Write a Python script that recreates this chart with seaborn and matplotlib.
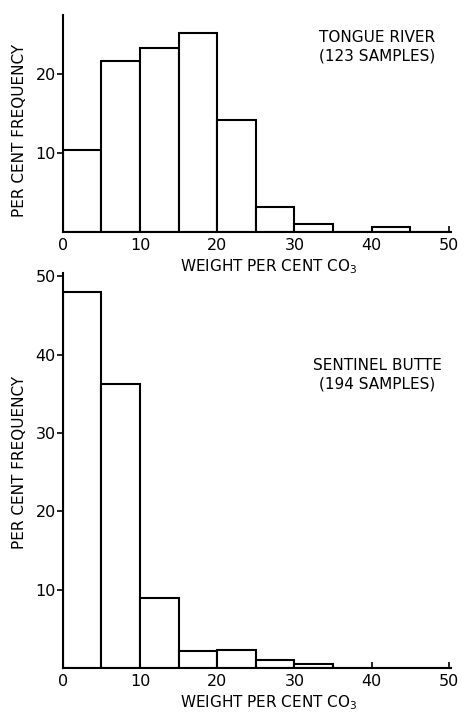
import matplotlib
matplotlib.use("Agg")
import matplotlib.pyplot as plt
import seaborn as sns
import numpy as np

# ---- data ----
bin_edges = [0, 5, 10, 15, 20, 25, 30, 35, 40, 45, 50]
tongue_river = [10.4, 21.6, 23.3, 25.2, 14.1, 3.2, 1.05, 0.0, 0.6, 0.0]
sentinel_butte = [48.0, 36.2, 8.9, 2.2, 2.3, 1.05, 0.55, 0.0, 0.0, 0.0]
x_ticks = [0, 10, 20, 30, 40, 50]
top_yticks = [10, 20]
bottom_yticks = [10, 20, 30, 40, 50]
xlabel = "WEIGHT PER CENT CO$_3$"
ylabel = "PER CENT FREQUENCY"
top_note = "TONGUE RIVER\n(123 SAMPLES)"
bottom_note = "SENTINEL BUTTE\n(194 SAMPLES)"

sns.set_theme(style="white")
plt.rcParams["font.family"] = ["DejaVu Sans"]
plt.rcParams["mathtext.fontset"] = "dejavusans"

fig = plt.figure(figsize=(4.66, 7.13), dpi=100)
ax1 = fig.add_axes([0.135, 0.6746, 0.833, 0.304])
ax2 = fig.add_axes([0.135, 0.063, 0.833, 0.554])

centers = [(a + b) / 2 for a, b in zip(bin_edges[:-1], bin_edges[1:])]

def draw(ax, vals, ymax, yticks, note, note_xy, ylab_y):
    sns.histplot(x=centers, weights=vals, bins=bin_edges, ax=ax,
                 color="white", edgecolor="black", linewidth=1.5, alpha=1)
    ax.set_xlim(0, 50.3)
    ax.set_ylim(0, ymax)
    ax.set_xticks(x_ticks)
    ax.set_yticks(yticks)
    for s in ["top", "right"]:
        ax.spines[s].set_visible(False)
    for s in ["left", "bottom"]:
        ax.spines[s].set_color("black")
        ax.spines[s].set_linewidth(1.5)
    ax.tick_params(axis="y", direction="out", length=4, width=1.2, pad=1,
                   labelsize=11.5, left=True, colors="black")
    ax.tick_params(axis="x", direction="in", length=4, width=1.2, pad=4,
                   labelsize=11.5, bottom=True, colors="black")
    ax.set_xlabel(xlabel, fontsize=11, labelpad=1, color="black")
    ax.set_ylabel(ylabel, fontsize=11, labelpad=5, color="black")
    ax.yaxis.set_label_coords(-0.093, ylab_y)
    ax.text(note_xy[0], note_xy[1], note, transform=ax.transAxes,
            ha="center", va="top", fontsize=11, linespacing=1.25, color="black")
    ax.grid(False)

draw(ax1, tongue_river, 27.4, top_yticks, top_note, (0.81, 0.93), 0.47)
draw(ax2, sentinel_butte, 50.4, bottom_yticks, bottom_note, (0.81, 0.785), 0.52)
ax1.xaxis.set_label_coords(0.53, -0.115)
ax2.xaxis.set_label_coords(0.53, -0.065)

fig.savefig("out.png", dpi=100, facecolor="white")
